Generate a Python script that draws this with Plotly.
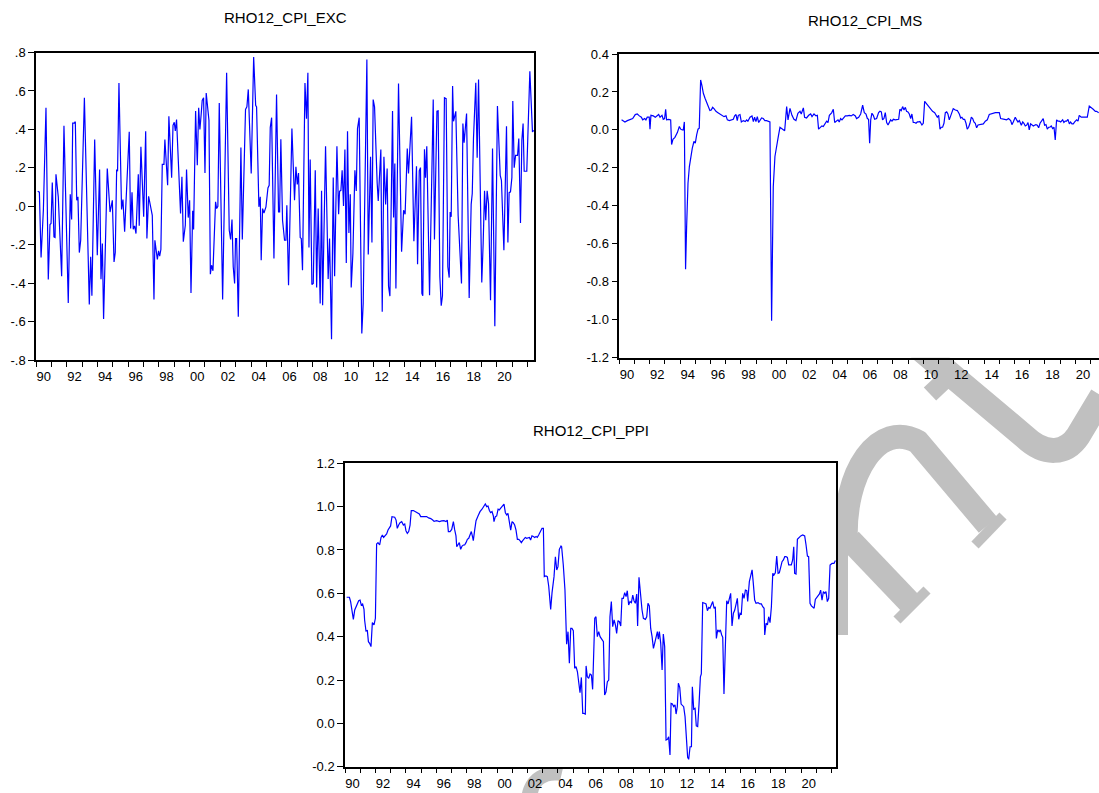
import plotly.graph_objects as go

W, H = 1099, 793
FONT = "Liberation Sans, Arial, sans-serif"

# ---------------- data ----------------
EXC_T = [1990.11, 1990.22, 1990.33, 1990.48, 1990.65, 1990.80, 1990.91, 1990.98, 1991.06, 1991.17,
         1991.24, 1991.30, 1991.45, 1991.67, 1991.82, 1992.10, 1992.23, 1992.32, 1992.39, 1992.49,
         1992.56, 1992.65, 1992.73, 1992.82, 1992.91, 1993.15, 1993.47, 1993.56, 1993.64, 1993.82,
         1993.99, 1994.14, 1994.23, 1994.32, 1994.40, 1994.64, 1994.82, 1994.97, 1995.08, 1995.16,
         1995.25, 1995.31, 1995.40, 1995.57, 1995.66, 1995.77, 1996.07, 1996.16, 1996.25, 1996.33,
         1996.42, 1996.51, 1996.66, 1996.72, 1996.83, 1997.01, 1997.14, 1997.22, 1997.33, 1997.57,
         1997.68, 1997.74, 1997.90, 1997.98, 1998.05, 1998.13, 1998.22, 1998.33, 1998.39, 1998.57,
         1998.65, 1998.83, 1998.92, 1999.00, 1999.07, 1999.15, 1999.41, 1999.50, 1999.59, 1999.72,
         1999.80, 1999.91, 2000.00, 2000.09, 2000.20, 2000.26, 2000.39, 2000.50, 2000.59, 2000.67,
         2000.76, 2000.82, 2000.91, 2001.00, 2001.08, 2001.26, 2001.35, 2001.43, 2001.52, 2001.69,
         2001.76, 2001.84, 2001.93, 2002.02, 2002.15, 2002.41, 2002.58, 2002.67, 2002.76, 2002.84,
         2002.93, 2002.99, 2003.06, 2003.17, 2003.34, 2003.43, 2003.64, 2003.73, 2003.82, 2004.01,
         2004.17, 2004.30, 2004.36, 2004.51, 2004.60, 2004.66, 2004.75, 2004.84, 2004.97, 2005.10,
         2005.18, 2005.25, 2005.34, 2005.49, 2005.66, 2005.79, 2005.86, 2005.94, 2006.05, 2006.18,
         2006.27, 2006.33, 2006.44, 2006.66, 2006.83, 2006.92, 2007.01, 2007.09, 2007.20, 2007.27,
         2007.35, 2007.51, 2007.61, 2007.70, 2007.77, 2007.85, 2007.96, 2008.05, 2008.18, 2008.27,
         2008.37, 2008.50, 2008.59, 2008.66, 2008.85, 2009.02, 2009.11, 2009.24, 2009.35, 2009.44,
         2009.59, 2009.70, 2009.76, 2009.85, 2009.93, 2010.02, 2010.11, 2010.20, 2010.28, 2010.37,
         2010.46, 2010.52, 2010.63, 2010.76, 2010.85, 2010.93, 2011.04, 2011.21, 2011.30, 2011.54,
         2011.63, 2011.78, 2011.87, 2011.95, 2012.04, 2012.21, 2012.28, 2012.45, 2012.54, 2012.65,
         2012.76, 2012.86, 2012.95, 2013.04, 2013.21, 2013.28, 2013.36, 2013.43, 2013.60, 2013.80,
         2013.93, 2014.03, 2014.17, 2014.25, 2014.45, 2014.60, 2014.77, 2014.84, 2014.95, 2015.03,
         2015.12, 2015.18, 2015.29, 2015.36, 2015.44, 2015.62, 2015.86, 2015.94, 2016.10, 2016.18,
         2016.29, 2016.38, 2016.46, 2016.59, 2016.70, 2016.81, 2016.90, 2016.96, 2017.03, 2017.12,
         2017.18, 2017.33, 2017.48, 2017.70, 2017.79, 2017.87, 2018.03, 2018.20, 2018.33, 2018.40,
         2018.48, 2018.63, 2018.72, 2018.81, 2019.02, 2019.11, 2019.20, 2019.28, 2019.37, 2019.46,
         2019.59, 2019.72, 2019.87, 2020.04, 2020.22, 2020.30, 2020.46, 2020.63, 2020.72, 2020.80,
         2020.89, 2020.98, 2021.04, 2021.13, 2021.22, 2021.35, 2021.43, 2021.54, 2021.63, 2021.71,
         2021.78, 2021.95, 2022.15, 2022.32, 2022.41]
EXC_V = [0.078, 0.073, -0.267, -0.02, 0.513, -0.381, -0.095, -0.09, 0.123, -0.16,
         -0.163, 0.166, 0.049, -0.364, 0.419, -0.503, 0.062, -0.069, 0.433, 0.433,
         0.44, 0.031, 0.049, -0.241, -0.177, 0.565, -0.511, -0.263, -0.465, 0.347,
         -0.255, 0.191, -0.38, -0.194, -0.586, 0.196, -0.03, 0.031, -0.29, -0.241,
         0.191, 0.182, 0.641, -0.017, 0.035, -0.133, 0.387, -0.116, 0.073, -0.12,
         -0.102, -0.142, 0.166, -0.102, 0.309, -0.055, 0.39, -0.168, 0.052, -0.047,
         -0.485, -0.177, -0.277, -0.232, -0.26, -0.225, 0.218, 0.218, 0.347, 0.109,
         0.468, 0.149, 0.421, 0.437, 0.392, 0.451, -0.038, 0.153, -0.185, -0.099,
         0.191, -0.059, 0.031, -0.451, -0.024, -0.121, 0.496, 0.213, 0.513, 0.399,
         0.485, 0.551, 0.565, 0.173, 0.589, 0.447, -0.354, -0.307, -0.336, 0.023,
         -0.012, 0.0, 0.537, 0.17, -0.485, 0.695, -0.125, -0.173, -0.069, -0.315,
         -0.402, -0.168, -0.168, -0.575, 0.305, -0.173, 0.504, 0.517, 0.608, 0.17,
         0.777, 0.525, 0.517, -0.003, 0.049, -0.281, -0.012, -0.035, -0.003, 0.095,
         0.109, 0.409, 0.461, -0.272, 0.582, -0.03, -0.03, 0.348, -0.073, -0.177,
         -0.177, 0.005, -0.411, 0.404, 0.031, 0.205, 0.114, 0.173, -0.163, -0.168,
         -0.333, 0.641, 0.456, 0.695, -0.215, 0.243, -0.407, -0.402, 0.187, -0.423,
         -0.012, -0.506, 0.08, -0.515, 0.312, -0.378, -0.168, -0.692, 0.149, -0.364,
         0.312, -0.042, 0.078, 0.083, 0.187, 0.002, 0.295, -0.295, 0.39, -0.139,
         0.062, -0.423, -0.246, 0.187, 0.08, 0.404, 0.461, -0.662, -0.506, 0.763,
         -0.251, 0.257, -0.189, 0.555, 0.517, 0.121, 0.028, 0.295, -0.549, 0.257,
         0.009, 0.196, -0.416, -0.468, 0.496, -0.059, 0.222, -0.428, 0.638, -0.237,
         -0.021, -0.042, 0.3, 0.17, 0.465, -0.182, 0.208, -0.302, 0.184, 0.201,
         -0.454, -0.466, 0.296, 0.149, 0.312, -0.463, 0.555, -0.173, 0.494, 0.496,
         -0.367, -0.518, -0.466, 0.565, 0.56, -0.315, -0.371, -0.03, -0.055, 0.626,
         0.442, 0.494, -0.047, -0.402, 0.43, 0.331, 0.482, -0.477, 0.01, 0.066,
         0.352, 0.643, 0.253, 0.66, -0.397, -0.194, 0.08, -0.073, 0.08, 0.014,
         -0.489, 0.3, -0.624, 0.522, 0.161, 0.135, -0.229, 0.416, -0.189, 0.071,
         0.075, 0.149, 0.548, 0.201, 0.265, 0.265, 0.352, -0.087, 0.343, 0.43,
         0.182, 0.182, 0.702, 0.387, 0.395]

MS_T = [1990.15, 1990.26, 1990.37, 1990.53, 1990.70, 1990.88, 1991.05, 1991.18, 1991.32, 1991.45,
        1991.54, 1991.67, 1991.75, 1991.84, 1991.97, 1992.02, 1992.08, 1992.24, 1992.37, 1992.48,
        1992.59, 1992.68, 1992.81, 1992.89, 1992.98, 1993.05, 1993.11, 1993.25, 1993.38, 1993.44,
        1993.53, 1993.66, 1993.82, 1993.95, 1994.04, 1994.14, 1994.21, 1994.28, 1994.36, 1994.43,
        1994.52, 1994.61, 1994.69, 1994.80, 1994.91, 1995.00, 1995.09, 1995.18, 1995.26, 1995.35,
        1995.44, 1995.53, 1995.64, 1995.75, 1995.86, 1995.96, 1996.05, 1996.14, 1996.23, 1996.36,
        1996.49, 1996.62, 1996.75, 1996.89, 1997.02, 1997.11, 1997.24, 1997.37, 1997.50, 1997.59,
        1997.68, 1997.76, 1997.83, 1997.94, 1998.03, 1998.16, 1998.29, 1998.38, 1998.46, 1998.60,
        1998.73, 1998.82, 1998.90, 1998.99, 1999.08, 1999.17, 1999.25, 1999.36, 1999.47, 1999.58,
        1999.69, 1999.82, 1999.91, 2000.02, 2000.13, 2000.24, 2000.35, 2000.46, 2000.57, 2000.70,
        2000.79, 2000.88, 2001.01, 2001.10, 2001.23, 2001.36, 2001.49, 2001.62, 2001.75, 2001.89,
        2001.97, 2002.11, 2002.19, 2002.32, 2002.46, 2002.59, 2002.68, 2002.81, 2002.94, 2003.03,
        2003.11, 2003.25, 2003.33, 2003.42, 2003.55, 2003.64, 2003.73, 2003.82, 2003.97, 2004.08,
        2004.17, 2004.25, 2004.39, 2004.47, 2004.56, 2004.65, 2004.74, 2004.87, 2005.00, 2005.13,
        2005.26, 2005.39, 2005.53, 2005.61, 2005.75, 2005.88, 2006.01, 2006.12, 2006.23, 2006.32,
        2006.40, 2006.47, 2006.54, 2006.62, 2006.71, 2006.80, 2006.93, 2007.06, 2007.15, 2007.24,
        2007.32, 2007.41, 2007.50, 2007.59, 2007.68, 2007.76, 2007.85, 2007.94, 2008.03, 2008.16,
        2008.29, 2008.38, 2008.46, 2008.55, 2008.64, 2008.73, 2008.82, 2008.90, 2008.99, 2009.08,
        2009.17, 2009.25, 2009.34, 2009.43, 2009.52, 2009.61, 2009.69, 2009.78, 2009.91, 2010.00,
        2010.09, 2010.22, 2010.35, 2010.48, 2010.61, 2010.75, 2010.83, 2010.92, 2011.01, 2011.10,
        2011.18, 2011.27, 2011.36, 2011.45, 2011.54, 2011.62, 2011.71, 2011.84, 2011.97, 2012.11,
        2012.24, 2012.37, 2012.46, 2012.54, 2012.63, 2012.72, 2012.81, 2012.89, 2012.98, 2013.07,
        2013.16, 2013.25, 2013.33, 2013.42, 2013.51, 2013.60, 2013.68, 2013.82, 2013.95, 2014.08,
        2014.21, 2014.34, 2014.47, 2014.61, 2014.74, 2014.87, 2015.00, 2015.09, 2015.22, 2015.35,
        2015.48, 2015.61, 2015.75, 2015.83, 2015.92, 2016.05, 2016.14, 2016.23, 2016.32, 2016.45,
        2016.54, 2016.62, 2016.71, 2016.80, 2016.89, 2016.97, 2017.06, 2017.15, 2017.24, 2017.32,
        2017.41, 2017.50, 2017.59, 2017.68, 2017.81, 2017.89, 2017.98, 2018.07, 2018.16, 2018.25,
        2018.33, 2018.42, 2018.51, 2018.60, 2018.68, 2018.77, 2018.86, 2018.95, 2019.04, 2019.17,
        2019.25, 2019.34, 2019.43, 2019.52, 2019.61, 2019.69, 2019.78, 2019.87, 2019.96, 2020.09,
        2020.18, 2020.26, 2020.39, 2020.53, 2020.66, 2020.79, 2020.92, 2021.05, 2021.18, 2021.32,
        2021.40, 2021.54]
MS_V = [0.053, 0.049, 0.042, 0.049, 0.053, 0.060, 0.081, 0.084, 0.074, 0.067,
        0.053, 0.060, 0.053, 0.067, 0.067, 0.004, 0.077, 0.074, 0.067, 0.077,
        0.081, 0.067, 0.077, 0.056, 0.060, 0.109, 0.053, 0.056, 0.053, -0.077,
        -0.049, -0.039, -0.014, 0.018, 0.004, 0.0, 0.0, 0.042, -0.734, -0.509,
        -0.281, -0.193, -0.14, -0.097, -0.061, -0.07, -0.026, 0.004, 0.009, 0.263,
        0.232, 0.193, 0.167, 0.144, 0.123, 0.102, 0.105, 0.119, 0.112, 0.098,
        0.091, 0.084, 0.074, 0.070, 0.074, 0.053, 0.049, 0.053, 0.056, 0.074,
        0.081, 0.049, 0.077, 0.081, 0.042, 0.049, 0.044, 0.053, 0.046, 0.067,
        0.074, 0.044, 0.067, 0.044, 0.070, 0.039, 0.053, 0.063, 0.060, 0.049,
        0.049, 0.046, 0.042, -1.005, -0.299, -0.14, -0.079, -0.035, 0.014, 0.007,
        0.0, -0.004, 0.123, 0.053, 0.114, 0.077, 0.056, 0.049, 0.088, 0.098,
        0.084, 0.116, 0.067, 0.063, 0.077, 0.084, 0.070, 0.084, 0.074, 0.077,
        0.004, 0.014, 0.021, 0.018, 0.032, 0.046, 0.039, 0.077, 0.090, 0.109,
        0.039, 0.046, 0.053, 0.042, 0.060, 0.053, 0.063, 0.074, 0.074, 0.077,
        0.074, 0.081, 0.074, 0.060, 0.067, 0.084, 0.130, 0.091, 0.084, 0.060,
        0.056, -0.07, 0.053, 0.088, 0.077, 0.056, 0.060, 0.091, 0.098, 0.095,
        0.053, 0.060, 0.091, 0.039, 0.026, 0.039, 0.053, 0.046, 0.056, 0.053,
        0.053, 0.056, 0.109, 0.102, 0.123, 0.105, 0.119, 0.098, 0.095, 0.084,
        0.060, 0.084, 0.039, 0.039, 0.035, 0.042, 0.042, 0.044, 0.026, 0.035,
        0.151, 0.137, 0.123, 0.109, 0.098, 0.091, 0.081, 0.067, 0.077, 0.004,
        0.014, 0.014, 0.035, 0.091, 0.095, 0.084, 0.053, 0.081, 0.112, 0.105,
        0.102, 0.084, 0.063, 0.067, 0.056, 0.056, 0.035, 0.004, 0.014, 0.035,
        0.067, 0.060, 0.042, 0.035, 0.011, 0.026, 0.028, 0.032, 0.032, 0.046,
        0.053, 0.081, 0.084, 0.091, 0.091, 0.091, 0.091, 0.060, 0.056, 0.056,
        0.053, 0.060, 0.049, 0.028, 0.042, 0.067, 0.053, 0.042, 0.049, 0.025,
        0.042, 0.035, 0.021, 0.025, 0.039, 0.000, 0.032, 0.028, 0.021, 0.025,
        0.028, 0.025, 0.011, 0.035, 0.049, 0.060, 0.025, 0.028, 0.004, 0.014,
        0.014, 0.021, 0.007, 0.014, -0.053, 0.053, 0.046, 0.046, 0.042, 0.053,
        0.039, 0.046, 0.046, 0.056, 0.032, 0.042, 0.032, 0.032, 0.042, 0.053,
        0.046, 0.077, 0.067, 0.067, 0.070, 0.067, 0.126, 0.119, 0.109, 0.098,
        0.098, 0.091]

PPI_T = [1990.11, 1990.29, 1990.37, 1990.46, 1990.55, 1990.64, 1990.72, 1990.81, 1990.90, 1990.99,
         1991.07, 1991.16, 1991.25, 1991.29, 1991.38, 1991.47, 1991.54, 1991.62, 1991.71, 1991.80,
         1991.91, 1992.00, 1992.08, 1992.17, 1992.28, 1992.37, 1992.46, 1992.54, 1992.65, 1992.74,
         1992.83, 1992.92, 1993.00, 1993.09, 1993.18, 1993.27, 1993.36, 1993.44, 1993.53, 1993.62,
         1993.73, 1993.84, 1993.93, 1994.01, 1994.10, 1994.19, 1994.28, 1994.36, 1994.50, 1994.63,
         1994.76, 1994.89, 1994.98, 1995.15, 1995.29, 1995.37, 1995.50, 1995.64, 1995.77, 1995.86,
         1996.03, 1996.21, 1996.36, 1996.51, 1996.64, 1996.73, 1996.80, 1996.91, 1997.02, 1997.13,
         1997.21, 1997.30, 1997.35, 1997.43, 1997.52, 1997.61, 1997.70, 1997.79, 1997.87, 1997.96,
         1998.05, 1998.14, 1998.22, 1998.31, 1998.40, 1998.44, 1998.53, 1998.62, 1998.75, 1998.88,
         1999.01, 1999.14, 1999.23, 1999.32, 1999.41, 1999.50, 1999.58, 1999.67, 1999.76, 1999.80,
         1999.89, 1999.98, 2000.07, 2000.15, 2000.24, 2000.37, 2000.46, 2000.55, 2000.64, 2000.72,
         2000.81, 2000.90, 2000.99, 2001.07, 2001.16, 2001.25, 2001.34, 2001.43, 2001.51, 2001.60,
         2001.69, 2001.78, 2001.86, 2001.95, 2002.04, 2002.13, 2002.21, 2002.30, 2002.39, 2002.48,
         2002.57, 2002.65, 2002.74, 2002.83, 2002.96, 2003.05, 2003.11, 2003.22, 2003.31, 2003.40,
         2003.49, 2003.53, 2003.62, 2003.75, 2003.84, 2003.93, 2004.01, 2004.10, 2004.21, 2004.25,
         2004.36, 2004.47, 2004.58, 2004.67, 2004.76, 2004.85, 2004.93, 2005.02, 2005.11, 2005.20,
         2005.29, 2005.37, 2005.46, 2005.55, 2005.64, 2005.72, 2005.81, 2005.86, 2005.94, 2006.03,
         2006.12, 2006.21, 2006.29, 2006.43, 2006.51, 2006.60, 2006.69, 2006.78, 2006.91, 2007.00,
         2007.08, 2007.17, 2007.26, 2007.35, 2007.43, 2007.52, 2007.61, 2007.70, 2007.79, 2007.87,
         2007.96, 2008.05, 2008.14, 2008.22, 2008.31, 2008.40, 2008.49, 2008.57, 2008.66, 2008.75,
         2008.84, 2008.93, 2009.01, 2009.10, 2009.19, 2009.25, 2009.34, 2009.45, 2009.54, 2009.63,
         2009.76, 2009.85, 2009.93, 2010.02, 2010.11, 2010.20, 2010.29, 2010.37, 2010.46, 2010.55,
         2010.61, 2010.68, 2010.77, 2010.86, 2010.94, 2011.03, 2011.12, 2011.21, 2011.29, 2011.38,
         2011.45, 2011.54, 2011.62, 2011.71, 2011.78, 2011.86, 2011.93, 2012.02, 2012.11, 2012.19,
         2012.28, 2012.37, 2012.46, 2012.54, 2012.61, 2012.70, 2012.79, 2012.85, 2012.94, 2013.03,
         2013.11, 2013.20, 2013.29, 2013.38, 2013.44, 2013.53, 2013.66, 2013.75, 2013.84, 2013.93,
         2014.01, 2014.10, 2014.19, 2014.28, 2014.36, 2014.43, 2014.52, 2014.61, 2014.69, 2014.78,
         2014.85, 2014.93, 2015.02, 2015.11, 2015.20, 2015.29, 2015.37, 2015.46, 2015.55, 2015.64,
         2015.72, 2015.81, 2015.90, 2015.99, 2016.07, 2016.16, 2016.25, 2016.34, 2016.43, 2016.49,
         2016.60, 2016.69, 2016.78, 2016.86, 2016.95, 2017.04, 2017.17, 2017.30, 2017.39, 2017.48,
         2017.57, 2017.61, 2017.70, 2017.79, 2017.87, 2017.96, 2018.05, 2018.14, 2018.22, 2018.31,
         2018.40, 2018.49, 2018.57, 2018.66, 2018.75, 2018.84, 2018.93, 2019.01, 2019.10, 2019.19,
         2019.28, 2019.36, 2019.45, 2019.52, 2019.58, 2019.67, 2019.76, 2019.85, 2019.98, 2020.11,
         2020.24, 2020.33, 2020.42, 2020.50, 2020.59, 2020.68, 2020.77, 2020.86, 2020.94, 2021.03,
         2021.12, 2021.21, 2021.29, 2021.38, 2021.47, 2021.56, 2021.64, 2021.73, 2021.82, 2021.91,
         2022.04, 2022.17, 2022.26]
PPI_V = [0.582, 0.582, 0.562, 0.523, 0.48, 0.523, 0.538, 0.557, 0.566, 0.569,
         0.546, 0.551, 0.526, 0.477, 0.426, 0.428, 0.377, 0.369, 0.354, 0.465,
         0.454, 0.485, 0.828, 0.834, 0.823, 0.858, 0.869, 0.858, 0.865, 0.874,
         0.892, 0.90, 0.911, 0.954, 0.951, 0.951, 0.938, 0.90, 0.915, 0.926,
         0.931, 0.915, 0.92, 0.889, 0.877, 0.885, 0.915, 0.982, 0.982, 0.977,
         0.969, 0.966, 0.954, 0.954, 0.951, 0.954, 0.948, 0.945, 0.938, 0.932,
         0.935, 0.931, 0.934, 0.935, 0.931, 0.938, 0.885, 0.885, 0.895, 0.931,
         0.895, 0.865, 0.815, 0.828, 0.834, 0.803, 0.818, 0.823, 0.823, 0.834,
         0.849, 0.854, 0.869, 0.885, 0.858, 0.843, 0.892, 0.935, 0.957, 0.977,
         0.988, 1.0, 1.012, 1.0, 1.003, 0.982, 0.972, 0.977, 0.957, 0.931,
         0.954, 0.957, 0.988, 0.985, 0.992, 1.003, 1.012, 0.972, 0.962, 0.969,
         0.938, 0.892, 0.931, 0.926, 0.915, 0.892, 0.849, 0.849, 0.843, 0.834,
         0.843, 0.854, 0.858, 0.854, 0.858, 0.858, 0.846, 0.865, 0.862, 0.858,
         0.862, 0.858, 0.869, 0.885, 0.90, 0.90, 0.677, 0.68, 0.677, 0.634,
         0.538, 0.526, 0.603, 0.677, 0.769, 0.708, 0.723, 0.803, 0.818, 0.815,
         0.731, 0.615, 0.365, 0.423, 0.277, 0.438, 0.438, 0.428, 0.254, 0.262,
         0.238, 0.2, 0.142, 0.212, 0.046, 0.046, 0.043, 0.265, 0.215, 0.208,
         0.228, 0.223, 0.157, 0.485, 0.492, 0.40, 0.423, 0.40, 0.385, 0.377,
         0.131, 0.146, 0.192, 0.2, 0.492, 0.562, 0.446, 0.477, 0.454, 0.415,
         0.474, 0.469, 0.449, 0.577, 0.577, 0.603, 0.585, 0.612, 0.546, 0.562,
         0.557, 0.592, 0.566, 0.554, 0.597, 0.449, 0.674, 0.577, 0.523, 0.485,
         0.48, 0.492, 0.554, 0.542, 0.438, 0.40, 0.346, 0.369, 0.392, 0.423,
         0.388, 0.423, 0.369, 0.246, 0.412, 0.354, -0.077, -0.074, -0.062, -0.146,
         0.092, 0.089, 0.077, 0.085, 0.043, 0.077, 0.185, 0.166, 0.089, 0.085,
         0.077, 0.031, -0.062, -0.157, -0.166, -0.108, -0.108, 0.169, 0.065, 0.069,
         -0.012, -0.015, 0.089, 0.215, 0.228, 0.557, 0.554, 0.551, 0.52, 0.535,
         0.531, 0.551, 0.562, 0.531, 0.538, 0.392, 0.431, 0.423, 0.431, 0.408,
         0.397, 0.135, 0.308, 0.566, 0.551, 0.585, 0.60, 0.449, 0.508, 0.523,
         0.546, 0.577, 0.48, 0.508, 0.505, 0.60, 0.577, 0.615, 0.612, 0.562,
         0.654, 0.68, 0.708, 0.646, 0.569, 0.554, 0.557, 0.551, 0.551, 0.538,
         0.531, 0.408, 0.462, 0.454, 0.492, 0.465, 0.538, 0.692, 0.685, 0.695,
         0.772, 0.692, 0.695, 0.72, 0.746, 0.754, 0.769, 0.769, 0.766, 0.731,
         0.731, 0.731, 0.754, 0.815, 0.692, 0.689, 0.849, 0.858, 0.865, 0.869,
         0.865, 0.823, 0.772, 0.769, 0.554, 0.542, 0.535, 0.531, 0.572, 0.582,
         0.588, 0.597, 0.615, 0.569, 0.608, 0.60, 0.608, 0.562, 0.577, 0.731,
         0.738, 0.738, 0.751]

TITLES = ["RHO12_CPI_EXC", "RHO12_CPI_MS", "RHO12_CPI_PPI"]
YEAR_TICKS = list(range(1990, 2023))
YEAR_LABEL_POS = [1990.5 + 2 * i for i in range(16)]
YEAR_LABELS = ["90", "92", "94", "96", "98", "00", "02", "04", "06", "08",
               "10", "12", "14", "16", "18", "20"]
EXC_YT = [-0.8, -0.6, -0.4, -0.2, 0.0, 0.2, 0.4, 0.6, 0.8]
EXC_YL = ["-.8", "-.6", "-.4", "-.2", ".0", ".2", ".4", ".6", ".8"]
MS_YT = [-1.2, -1.0, -0.8, -0.6, -0.4, -0.2, 0.0, 0.2, 0.4]
MS_YL = ["-1.2", "-1.0", "-0.8", "-0.6", "-0.4", "-0.2", "0.0", "0.2", "0.4"]
PPI_YT = [-0.2, 0.0, 0.2, 0.4, 0.6, 0.8, 1.0, 1.2]
PPI_YL = ["-0.2", "0.0", "0.2", "0.4", "0.6", "0.8", "1.0", "1.2"]

# ---------------- layout helpers ----------------
def px(x):
    return x / W


def py(y):
    return 1 - y / H


# panel boxes in page pixels: left, top, right, bottom
P1 = (36, 52.5, 534, 360)
P2 = (619.3, 54, 1099, 357.7)
P3 = (345, 463.3, 836, 766.7)

TICKFONT = dict(family=FONT, size=13, color="#000")


def xax(box, rng, anchor):
    return dict(domain=[px(box[0]), px(box[2])], range=rng, anchor=anchor,
                showline=True, linecolor="#000", linewidth=1.5, mirror=True,
                ticks="", tickmode="array", tickvals=YEAR_LABEL_POS, ticktext=YEAR_LABELS,
                tickfont=TICKFONT, automargin=False, ticklabelstandoff=4,
                minor=dict(ticks="outside", tickmode="array", tickvals=YEAR_TICKS,
                           ticklen=5, tickwidth=1, tickcolor="#000", showgrid=False),
                showgrid=False, zeroline=False, fixedrange=True)


def yax(box, rng, vals, text, anchor, mirror=True):
    return dict(domain=[py(box[3]), py(box[1])], range=rng, anchor=anchor,
                showline=True, linecolor="#000", linewidth=1.5, mirror=mirror,
                ticks="outside", ticklen=6, tickwidth=1, tickcolor="#000",
                tickmode="array", tickvals=vals, ticktext=text, tickfont=TICKFONT,
                automargin=False, showgrid=False, zeroline=False, fixedrange=True)


fig = go.Figure()
line = dict(color="#0000FF", width=1.2)
fig.add_trace(go.Scatter(x=EXC_T, y=EXC_V, mode="lines", line=line, xaxis="x", yaxis="y",
                         showlegend=False, hoverinfo="skip"))
fig.add_trace(go.Scatter(x=MS_T, y=MS_V, mode="lines", line=line, xaxis="x2", yaxis="y2",
                         showlegend=False, hoverinfo="skip"))
fig.add_trace(go.Scatter(x=PPI_T, y=PPI_V, mode="lines", line=line, xaxis="x3", yaxis="y3",
                         showlegend=False, hoverinfo="skip"))

# ---------------- watermark (decorative, outside the plot areas) ----------------
def path(cmds):
    out = []
    for c, pts in cmds:
        s = c + " " + " ".join("%.5f,%.5f" % (px(x), py(y)) for x, y in pts)
        out.append(s)
    return " ".join(out)


WM = "#C0C0C0"
shapes = []


def stroke(cmds, w):
    shapes.append(dict(type="path", xref="paper", yref="paper", layer="below",
                       path=path(cmds), line=dict(color=WM, width=w)))


def fill(cmds):
    shapes.append(dict(type="path", xref="paper", yref="paper", layer="below",
                       path=path(cmds) + " Z", fillcolor=WM, line=dict(width=0)))

# letter "t"
stroke([("M", [(912, 342)]), ("L", [(1025, 437)]),
        ("C", [(1045, 456), (1066, 454), (1078, 436)]), ("L", [(1102, 396)])], 25)
stroke([("M", [(948, 377)]), ("L", [(930, 394)])], 18)
# letter "n"
stroke([("M", [(846, 545)]), ("C", [(842, 470), (880, 420), (918, 442)]), ("L", [(988, 525)])], 24)
stroke([("M", [(975, 545)]), ("L", [(1003, 516)])], 10)
stroke([("M", [(850, 540)]), ("L", [(912, 605)])], 24)
stroke([("M", [(897, 620)]), ("L", [(927, 590)])], 10)
stroke([("M", [(842, 500)]), ("L", [(842, 635)])], 12)
fill([("M", [(837, 645)]), ("L", [(853, 650), (871, 649), (837, 684)])])
# pieces along the bottom
fill([("M", [(522, 793)]), ("C", [(526, 775), (540, 764), (563, 768)]), ("L", [(560, 781)]),
      ("C", [(548, 779), (540, 784), (538, 793)])])
fill([("M", [(628, 767)]), ("L", [(648, 767), (668, 793), (646, 793)])])
fill([("M", [(705, 793)]), ("L", [(725, 793), (748, 767), (728, 767)])])
# opaque plot backgrounds above the watermark
for b in (P1, P2, P3):
    shapes.append(dict(type="rect", xref="paper", yref="paper", layer="below",
                       x0=px(b[0]), x1=px(b[2]), y0=py(b[3]), y1=py(b[1]),
                       fillcolor="#FFFFFF", line=dict(width=0)))

annotations = []
for title, cx, cy in ((TITLES[0], 285, 17), (TITLES[1], 865, 20), (TITLES[2], 591, 430)):
    annotations.append(dict(text=title, xref="paper", yref="paper", x=px(cx), y=py(cy),
                            xanchor="center", yanchor="middle", showarrow=False,
                            font=dict(family=FONT, size=15, color="#000")))

fig.update_layout(
    width=W, height=H, margin=dict(l=0, r=0, t=0, b=0, pad=0, autoexpand=False),
    paper_bgcolor="#FFFFFF", plot_bgcolor="rgba(0,0,0,0)",
    xaxis=xax(P1, [1990, 2022.42], "y"),
    yaxis=yax(P1, [-0.8, 0.8], EXC_YT, EXC_YL, "x"),
    xaxis2=xax(P2, [1990, 2021.56], "y2"),
    yaxis2=yax(P2, [-1.2, 0.4], MS_YT, MS_YL, "x2", mirror=False),
    xaxis3=xax(P3, [1990, 2022.30], "y3"),
    yaxis3=yax(P3, [-0.2, 1.2], PPI_YT, PPI_YL, "x3"),
    shapes=shapes, annotations=annotations, showlegend=False,
)

fig.write_html("out.html")
